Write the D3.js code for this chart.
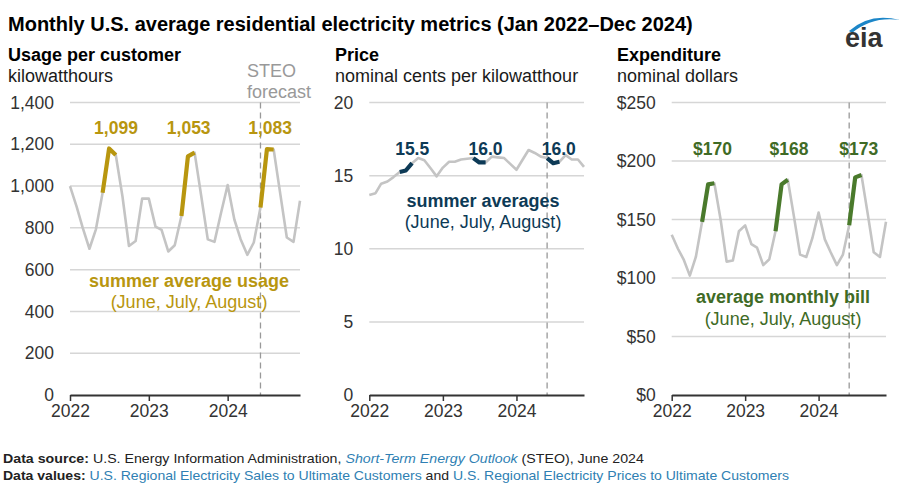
<!DOCTYPE html>
<html><head><meta charset="utf-8">
<script src="https://cdn.jsdelivr.net/npm/d3@7"></script>
<style>body{margin:0;background:#fff}svg{display:block}</style>
</head><body>
<script>
// ---------- data ----------
const months = ["2022-01","2022-02","2022-03","2022-04","2022-05","2022-06","2022-07","2022-08","2022-09","2022-10","2022-11","2022-12",
                "2023-01","2023-02","2023-03","2023-04","2023-05","2023-06","2023-07","2023-08","2023-09","2023-10","2023-11","2023-12",
                "2024-01","2024-02","2024-03","2024-04","2024-05","2024-06","2024-07","2024-08","2024-09","2024-10","2024-11","2024-12"];
const usage = [1000, 900, 800, 700, 793, 968, 1180, 1149, 950, 713, 737, 940,
               940, 806, 790, 687, 717, 857, 1142, 1160, 950, 745, 733, 870,
               1005, 840, 746, 671, 730, 897, 1177, 1175, 960, 754, 733, 930];
const price = [13.68, 13.8, 14.45, 14.6, 14.9, 15.25, 15.35, 15.85, 16.2, 16.05, 15.5, 14.95,
               15.55, 15.95, 15.95, 16.1, 16.15, 16.2, 15.9, 15.9, 16.3, 16.25, 16.2, 15.8,
               15.4, 16.1, 16.75, 16.55, 16.3, 16.2, 15.85, 15.95, 16.4, 16.1, 16.1, 15.6];
const bill = [137, 125, 116, 102, 118, 148, 180, 181, 150, 114, 115, 140,
              145, 129, 126, 111, 116, 140, 180, 184, 152, 120, 118, 134,
              156, 133, 122, 111, 120, 145, 186, 188, 155, 122, 118, 148];
const summerYears = ["2022", "2023", "2024"];
const summerMonths = ["06", "07", "08"];
const summerUsage = [1099, 1053, 1083];
const summerPrice = [15.5, 16.0, 16.0];
const summerBill = [170, 168, 173];
const usageTicks = [0, 200, 400, 600, 800, 1000, 1200, 1400];
const priceTicks = [0, 5, 10, 15, 20];
const billTicks = [0, 50, 100, 150, 200, 250];
const yearTicks = ["2022-01", "2023-01", "2024-01"];
const forecastStart = "2024-06";

// ---------- drawing ----------
const W = 918, H = 487;
const FONT = "'Liberation Sans', Arial, Helvetica, sans-serif";
const svg = d3.select("body").append("svg").attr("width", W).attr("height", H)
  .style("font-family", FONT);

const parse = d3.timeParse("%Y-%m");
const dates = months.map(parse);
const Y0 = 395, Y1 = 102.5;
const GRAY = "#c4c4c4";

svg.append("text").attr("x", 8).attr("y", 31).attr("font-size", 20).attr("font-weight", "bold")
  .attr("fill", "#000").text("Monthly U.S. average residential electricity metrics (Jan 2022\u2013Dec 2024)");

const panels = [
  {left: 70, right: 300, titleX: 8, title: "Usage per customer", sub: "kilowatthours",
   values: usage, ticks: usageTicks, fmt: d3.format(","), color: "#b8960f", textColor: "#b8960f",
   summer: summerUsage, sFmt: d3.format(","), labelY: 134, labelDx: [6.9, 0.8, 3.1],
   note: ["summer average usage", "(June, July, August)"], noteX: 189, noteY: [287, 308]},
  {left: 369.3, right: 584, titleX: 335, title: "Price", sub: "nominal cents per kilowatthour",
   values: price, ticks: priceTicks, fmt: d3.format("d"), color: "#0d3a56", textColor: "#0d3a56",
   summer: summerPrice, sFmt: d3.format(".1f"), labelY: 155, labelDx: [6.4, 6.2, 5.6],
   note: ["summer averages", "(June, July, August)"], noteX: 483, noteY: [207, 228]},
  {left: 671.7, right: 886, titleX: 617, title: "Expenditure", sub: "nominal dollars",
   values: bill, ticks: billTicks, fmt: d => "$" + d, color: "#4a7a2c", textColor: "#3f6b26",
   summer: summerBill, sFmt: d => "$" + d, labelY: 155, labelDx: [4.3, 7.4, 3.6],
   note: ["average monthly bill", "(June, July, August)"], noteX: 783, noteY: [303, 325]}
];

panels.forEach((p, pi) => {
  const g = svg.append("g");
  const x = d3.scaleTime().domain(d3.extent(dates)).range([p.left, p.right]);
  const y = d3.scaleLinear().domain([0, d3.max(p.ticks)]).range([Y0, Y1]);

  g.append("text").attr("x", p.titleX).attr("y", 61).attr("font-size", 18).attr("font-weight", "bold")
    .attr("fill", "#000").text(p.title);
  g.append("text").attr("x", p.titleX).attr("y", 82).attr("font-size", 18)
    .attr("fill", "#1a1a1a").text(p.sub);

  // gridlines
  g.append("g").selectAll("line").data(p.ticks.filter(t => t > 0)).join("line")
    .attr("x1", p.left).attr("x2", p.right).attr("y1", d => y(d)).attr("y2", d => y(d))
    .attr("stroke", "#d6d6d6").attr("stroke-width", 1.5);

  // y axis labels
  const ya = g.append("g").attr("transform", `translate(${p.left - 16},0)`)
    .call(d3.axisLeft(y).tickValues(p.ticks).tickFormat(p.fmt).tickSize(0).tickPadding(0));
  ya.select(".domain").remove();
  ya.selectAll("text").attr("font-size", 17.5).attr("fill", "#333").style("font-family", FONT);

  // forecast dashed line
  const fx = x(parse(forecastStart));
  g.append("line").attr("x1", fx).attr("x2", fx).attr("y1", Y1).attr("y2", Y0)
    .attr("stroke", "#999").attr("stroke-width", 1.3).attr("stroke-dasharray", "6,4");

  // x axis
  const xa = g.append("g").attr("transform", `translate(0,${Y0})`)
    .call(d3.axisBottom(x).tickValues(yearTicks.map(parse)).tickFormat(d3.timeFormat("%Y"))
      .tickSize(6).tickSizeOuter(0).tickPadding(4));
  xa.select(".domain").attr("stroke", "#333").attr("stroke-width", 1.8);
  xa.selectAll(".tick line").attr("stroke", "#333").attr("stroke-width", 1.5);
  xa.selectAll("text").attr("font-size", 17.5).attr("fill", "#333").style("font-family", FONT);

  // gray line
  const line = d3.line().x((d, i) => x(dates[i])).y(d => y(d));
  g.append("path").datum(p.values).attr("d", line).attr("fill", "none")
    .attr("stroke", GRAY).attr("stroke-width", 2.6).attr("stroke-linejoin", "round");

  // summer segments & labels
  summerYears.forEach((yr, k) => {
    const idx = summerMonths.map(m => months.indexOf(yr + "-" + m));
    const seg = d3.line().x(i => x(dates[i])).y(i => y(p.values[i]));
    g.append("path").datum(idx).attr("d", seg).attr("fill", "none")
      .attr("stroke", p.color).attr("stroke-width", 4.2).attr("stroke-linejoin", "round");
    g.append("text").attr("x", x(dates[idx[1]]) + p.labelDx[k]).attr("y", p.labelY)
      .attr("text-anchor", "middle").attr("font-size", 17.5).attr("font-weight", "bold")
      .attr("fill", p.textColor).text(p.sFmt(p.summer[k]));
  });

  g.append("text").attr("x", p.noteX).attr("y", p.noteY[0]).attr("text-anchor", "middle")
    .attr("font-size", 18).attr("font-weight", "bold").attr("fill", p.textColor).text(p.note[0]);
  g.append("text").attr("x", p.noteX).attr("y", p.noteY[1]).attr("text-anchor", "middle")
    .attr("font-size", 18).attr("fill", p.textColor).text(p.note[1]);

  if (pi === 0) {
    g.append("text").attr("x", 247).attr("y", 77).attr("font-size", 18).attr("fill", "#999").text("STEO");
    g.append("text").attr("x", 247).attr("y", 98).attr("font-size", 18).attr("fill", "#999").text("forecast");
  }
});

// footer
const LINK = "#2f7fb3";
function footerLine(yy, parts, targetW) {
  const t = svg.append("text").attr("x", 3).attr("y", yy).attr("font-size", 13).attr("fill", "#222");
  parts.forEach(([s, st]) => {
    const ts = t.append("tspan").text(s);
    if (st.includes("b")) ts.attr("font-weight", "bold");
    if (st.includes("i")) ts.attr("font-style", "italic");
    if (st.includes("l")) ts.attr("fill", LINK);
  });
  const w = t.node().getComputedTextLength();
  t.attr("transform", `translate(3,0) scale(${targetW / w},1) translate(-3,0)`);
}
footerLine(463, [["Data source:", "b"], [" U.S. Energy Information Administration, ", ""],
  ["Short-Term Energy Outlook", "il"], [" (STEO), June 2024", ""]], 641);
footerLine(480, [["Data values:", "b"], [" U.S. Regional Electricity Sales to Ultimate Customers", "l"],
  [" and ", ""], ["U.S. Regional Electricity Prices to Ultimate Customers", "l"]], 787);

// logo
const logo = svg.append("g");
logo.append("path").attr("d", "M849,31 Q870,12 900,20 Q872,16 852,33 Z").attr("fill", "#1c86c8");
logo.append("text").attr("x", 845).attr("y", 47).attr("font-size", 27).attr("font-weight", "bold")
  .attr("fill", "#333").text("eia");
</script>
</body></html>
